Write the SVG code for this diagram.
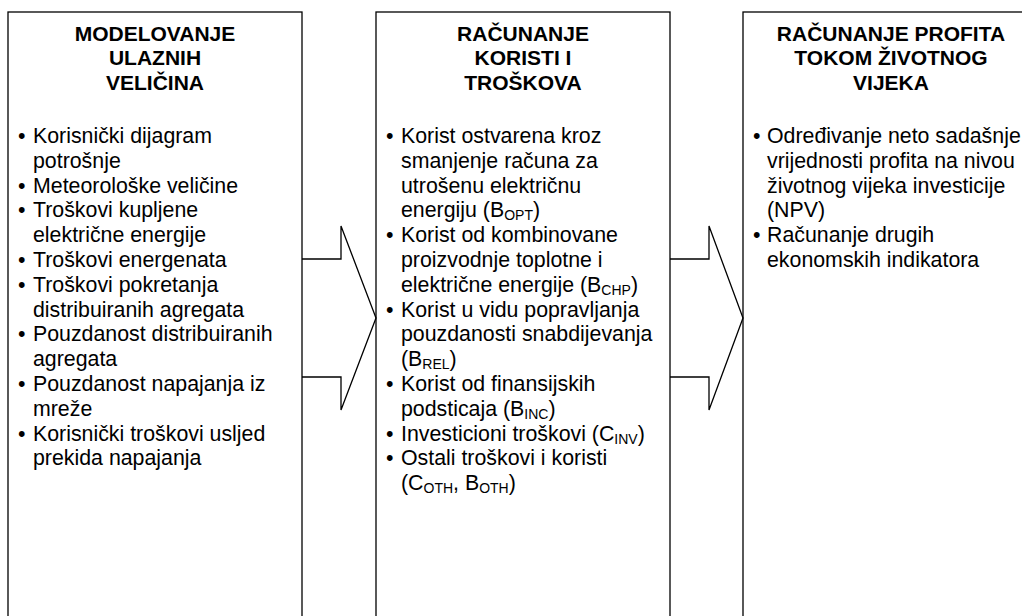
<svg xmlns="http://www.w3.org/2000/svg" width="1022" height="616" viewBox="0 0 1022 616">
<style>
.box{fill:#fff;stroke:#000;stroke-width:1.3}
.conn{fill:none;stroke:#000;stroke-width:1.3;stroke-linejoin:miter}
.t{font-family:"Liberation Sans",Arial,sans-serif;font-size:21px;font-weight:bold;text-anchor:middle;fill:#000}
.b{font-family:"Liberation Sans",Arial,sans-serif;font-size:21.33px;fill:#000}
.s{font-size:14px}
</style>
<rect width="1022" height="616" fill="#fff"/>
<g id="node-modelovanje">
<rect class="box" x="8" y="12" width="294" height="700"/>
<text class="t" x="155" y="40.5">MODELOVANJE</text>
<text class="t" x="155" y="65">ULAZNIH</text>
<text class="t" x="155" y="89.5">VELIČINA</text>
<g class="b">
<text x="18" y="143">•</text><text x="33" y="143">Korisnički dijagram</text>
<text x="33" y="167.8">potrošnje</text>
<text x="18" y="192.6">•</text><text x="33" y="192.6">Meteorološke veličine</text>
<text x="18" y="217.4">•</text><text x="33" y="217.4">Troškovi kupljene</text>
<text x="33" y="242.2">električne energije</text>
<text x="18" y="267">•</text><text x="33" y="267">Troškovi energenata</text>
<text x="18" y="291.8">•</text><text x="33" y="291.8">Troškovi pokretanja</text>
<text x="33" y="316.6">distribuiranih agregata</text>
<text x="18" y="341.4">•</text><text x="33" y="341.4">Pouzdanost distribuiranih</text>
<text x="33" y="366.2">agregata</text>
<text x="18" y="391">•</text><text x="33" y="391">Pouzdanost napajanja iz</text>
<text x="33" y="415.8">mreže</text>
<text x="18" y="440.6">•</text><text x="33" y="440.6">Korisnički troškovi usljed</text>
<text x="33" y="465.4">prekida napajanja</text>
</g>
</g>
<g id="node-racunanje-koristi">
<rect class="box" x="376" y="12" width="294" height="700"/>
<text class="t" x="523" y="40.5">RAČUNANJE</text>
<text class="t" x="523" y="65">KORISTI I</text>
<text class="t" x="523" y="89.5">TROŠKOVA</text>
<g class="b">
<text x="386" y="143">•</text><text x="401" y="143">Korist ostvarena kroz</text>
<text x="401" y="167.8">smanjenje računa za</text>
<text x="401" y="192.6">utrošenu električnu</text>
<text x="401" y="217.4">energiju (B<tspan class="s" dy="3">OPT</tspan><tspan dy="-3">)</tspan></text>
<text x="386" y="242.2">•</text><text x="401" y="242.2">Korist od kombinovane</text>
<text x="401" y="267">proizvodnje toplotne i</text>
<text x="401" y="291.8">električne energije (B<tspan class="s" dy="3">CHP</tspan><tspan dy="-3">)</tspan></text>
<text x="386" y="316.6">•</text><text x="401" y="316.6">Korist u vidu popravljanja</text>
<text x="401" y="341.4">pouzdanosti snabdijevanja</text>
<text x="401" y="366.2">(B<tspan class="s" dy="3">REL</tspan><tspan dy="-3">)</tspan></text>
<text x="386" y="391">•</text><text x="401" y="391">Korist od finansijskih</text>
<text x="401" y="415.8">podsticaja (B<tspan class="s" dy="3">INC</tspan><tspan dy="-3">)</tspan></text>
<text x="386" y="440.6">•</text><text x="401" y="440.6">Investicioni troškovi (C<tspan class="s" dy="3">INV</tspan><tspan dy="-3">)</tspan></text>
<text x="386" y="465.4">•</text><text x="401" y="465.4">Ostali troškovi i koristi</text>
<text x="401" y="490.2">(C<tspan class="s" dy="3">OTH</tspan><tspan dy="-3">, B</tspan><tspan class="s" dy="3">OTH</tspan><tspan dy="-3">)</tspan></text>
</g>
</g>
<g id="node-racunanje-profita">
<rect class="box" x="743" y="12" width="294" height="700"/>
<text class="t" x="891" y="40.5">RAČUNANJE PROFITA</text>
<text class="t" x="891" y="65">TOKOM ŽIVOTNOG</text>
<text class="t" x="891" y="89.5">VIJEKA</text>
<g class="b">
<text x="753" y="143">•</text><text x="767" y="143">Određivanje neto sadašnje</text>
<text x="767" y="167.8">vrijednosti profita na nivou</text>
<text x="767" y="192.6">životnog vijeka investicije</text>
<text x="767" y="217.4">(NPV)</text>
<text x="753" y="242.2">•</text><text x="767" y="242.2">Računanje drugih</text>
<text x="767" y="267">ekonomskih indikatora</text>
</g>
</g>
<g id="connectors">
<polyline class="conn" points="302,259 341,259 341,226 376,318 341,410 341,377 302,377"/>
<polyline class="conn" points="670,259 709,259 709,226 743,318 709,410 709,377 670,377"/>
</g>
</svg>
